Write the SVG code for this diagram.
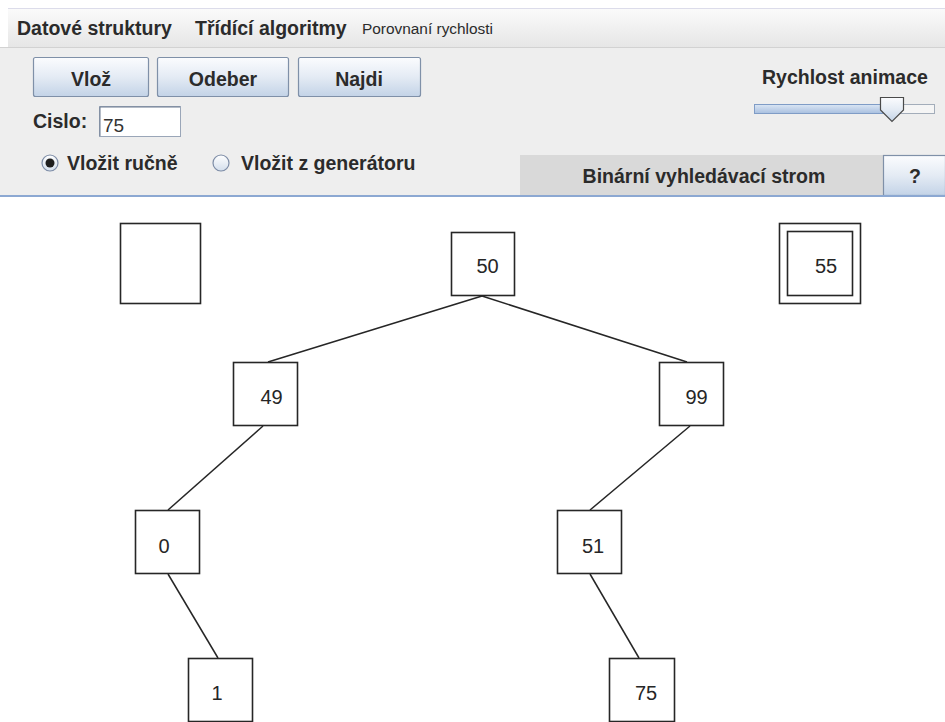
<svg xmlns="http://www.w3.org/2000/svg" width="945" height="722" viewBox="0 0 945 722">
  <defs>
    <linearGradient id="btnGrad" x1="0" y1="0" x2="0" y2="1">
      <stop offset="0" stop-color="#fbfcfe"/>
      <stop offset="0.5" stop-color="#e4ebf4"/>
      <stop offset="1" stop-color="#c3d3e7"/>
    </linearGradient>
    <linearGradient id="menuGrad" x1="0" y1="0" x2="0" y2="1">
      <stop offset="0" stop-color="#fbfbfb"/>
      <stop offset="1" stop-color="#e6e6e6"/>
    </linearGradient>
    <linearGradient id="trackGrad" x1="0" y1="0" x2="0" y2="1">
      <stop offset="0" stop-color="#dbe6f4"/>
      <stop offset="1" stop-color="#a8bfdf"/>
    </linearGradient>
    <linearGradient id="radioGrad" x1="0" y1="0" x2="0" y2="1">
      <stop offset="0" stop-color="#ffffff"/>
      <stop offset="1" stop-color="#d3deec"/>
    </linearGradient>
    <style>
      .bold { font-family: "Liberation Sans", Arial, sans-serif; font-weight: bold; font-size: 19.5px; fill: #2b2b2b; }
      .small { font-family: "Liberation Sans", Arial, sans-serif; font-size: 14px; fill: #2b2b2b; }
      .btn { fill: url(#btnGrad); stroke: #7f90a8; stroke-width: 1.2; }
      .node rect { fill: #ffffff; stroke: #262626; stroke-width: 1.6; }
      .node text { font-family: "Liberation Sans", Arial, sans-serif; font-size: 20px; fill: #262626; text-anchor: middle; }
      .edge { stroke: #262626; stroke-width: 1.5; fill: none; }
    </style>
  </defs>

  <!-- window background -->
  <rect x="0" y="0" width="945" height="722" fill="#ffffff"/>

  <!-- menu bar -->
  <g id="menubar">
    <rect x="8" y="8" width="937" height="39" fill="url(#menuGrad)"/>
    <line x1="8" y1="8.5" x2="945" y2="8.5" stroke="#dcdcea" stroke-width="1"/>
    <line x1="0" y1="47.5" x2="945" y2="47.5" stroke="#d2d2d2" stroke-width="1"/>
    <text class="bold" x="17" y="35">Datové struktury</text>
    <text class="bold" x="195" y="35">Třídící algoritmy</text>
    <text class="small" x="362" y="34" textLength="131" lengthAdjust="spacingAndGlyphs">Porovnaní rychlosti</text>
  </g>

  <!-- control panel -->
  <g id="panel">
    <rect x="0" y="48" width="945" height="148" fill="#eeeeee"/>

    <g id="btn-vloz">
      <rect class="btn" x="33.5" y="57.5" width="115" height="39" rx="2"/>
      <text class="bold" x="91" y="86" text-anchor="middle">Vlož</text>
    </g>
    <g id="btn-odeber">
      <rect class="btn" x="157.5" y="57.5" width="131" height="39" rx="2"/>
      <text class="bold" x="223" y="86" text-anchor="middle">Odeber</text>
    </g>
    <g id="btn-najdi">
      <rect class="btn" x="298.5" y="57.5" width="122" height="39" rx="2"/>
      <text class="bold" x="359" y="86" text-anchor="middle">Najdi</text>
    </g>

    <g id="cislo">
      <text class="bold" x="33" y="128">Cislo:</text>
      <rect x="99.5" y="106.5" width="81" height="30" fill="#ffffff" stroke="#9aa6b8" stroke-width="1"/>
      <path d="M100,136 V107 H180" fill="none" stroke="#6d7b90" stroke-width="1"/>
      <text x="103" y="132" font-family="Liberation Sans, Arial, sans-serif" font-size="19px" fill="#333333">75</text>
    </g>

    <g id="radio-rucne">
      <circle cx="50" cy="163" r="8" fill="url(#radioGrad)" stroke="#7d8ca6" stroke-width="1.2"/>
      <circle cx="50" cy="163" r="4.5" fill="#1e1e1e"/>
      <text class="bold" x="67" y="170">Vložit ručně</text>
    </g>
    <g id="radio-generator">
      <circle cx="221" cy="163" r="8" fill="url(#radioGrad)" stroke="#7d8ca6" stroke-width="1.2"/>
      <text class="bold" x="241" y="170">Vložit z generátoru</text>
    </g>

    <g id="speed">
      <text class="bold" x="762" y="84">Rychlost animace</text>
      <rect x="754.5" y="104.5" width="180" height="9" fill="#f5f5f5" stroke="#a3adba" stroke-width="1"/>
      <rect x="754.5" y="104.5" width="128" height="9" fill="url(#trackGrad)" stroke="#7f9cc6" stroke-width="1"/>
      <path d="M880.5,97.5 H903.5 V110 L892,121.5 L880.5,110 Z" fill="url(#btnGrad)" stroke="#4a4a4a" stroke-width="1.2"/>
    </g>

    <g id="tab-bst">
      <rect x="520" y="155" width="363" height="41" fill="#d9d9d9"/>
      <text class="bold" x="704" y="183" text-anchor="middle">Binární vyhledávací strom</text>
    </g>
    <g id="btn-help">
      <rect class="btn" x="883.5" y="155.5" width="62" height="40"/>
      <text class="bold" x="915" y="183" text-anchor="middle">?</text>
    </g>

    <rect x="0" y="195" width="945" height="2" fill="#8ca8d2"/>
  </g>

  <!-- tree connectors -->
  <g id="connectors">
    <line class="edge" x1="482" y1="296" x2="268" y2="362"/>
    <line class="edge" x1="482" y1="296" x2="687" y2="362"/>
    <line class="edge" x1="263" y1="426" x2="168" y2="510"/>
    <line class="edge" x1="690" y1="426" x2="590" y2="510"/>
    <line class="edge" x1="168" y1="574" x2="218" y2="658"/>
    <line class="edge" x1="590" y1="574" x2="639" y2="658"/>
  </g>

  <!-- nodes -->
  <g id="node-empty" class="node">
    <rect x="120.5" y="223.5" width="80" height="80"/>
  </g>
  <g id="node-55" class="node">
    <rect x="779.5" y="223.5" width="81" height="80"/>
    <rect x="787.5" y="231.5" width="65" height="64"/>
    <text x="826" y="273">55</text>
  </g>
  <g id="node-50" class="node">
    <rect x="451.5" y="232.5" width="63" height="63"/>
    <text x="487.5" y="273">50</text>
  </g>
  <g id="node-49" class="node">
    <rect x="233.5" y="362.5" width="64" height="63"/>
    <text x="271.5" y="404">49</text>
  </g>
  <g id="node-99" class="node">
    <rect x="659.5" y="362.5" width="64" height="63"/>
    <text x="696.5" y="404">99</text>
  </g>
  <g id="node-0" class="node">
    <rect x="135.5" y="510.5" width="64" height="63"/>
    <text x="164" y="553">0</text>
  </g>
  <g id="node-51" class="node">
    <rect x="557.5" y="510.5" width="64" height="63"/>
    <text x="593" y="553">51</text>
  </g>
  <g id="node-1" class="node">
    <rect x="188.5" y="658.5" width="64" height="63"/>
    <text x="217" y="700">1</text>
  </g>
  <g id="node-75" class="node">
    <rect x="609.5" y="658.5" width="65" height="63"/>
    <text x="646" y="700">75</text>
  </g>
</svg>
